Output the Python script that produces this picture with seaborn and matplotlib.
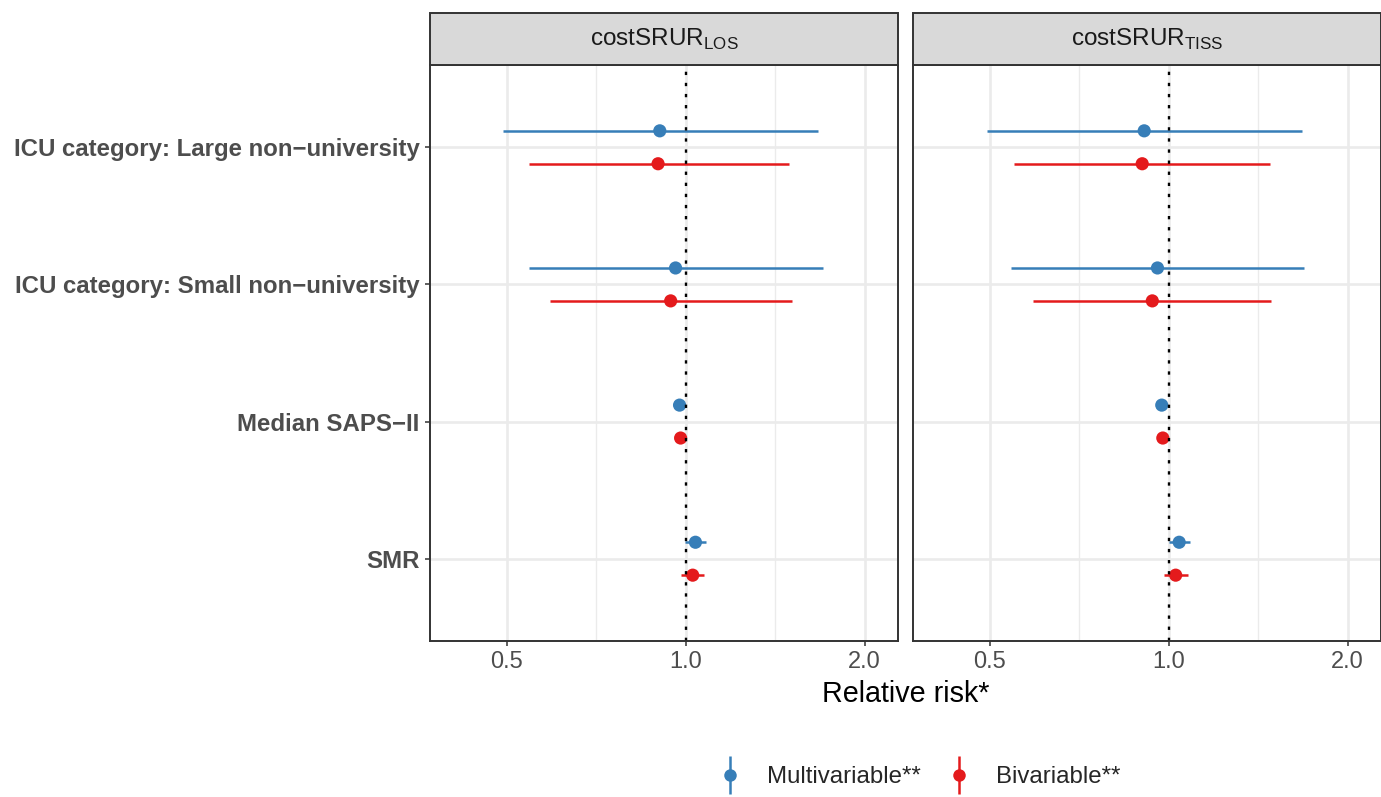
import numpy as np
import pandas as pd
import matplotlib
matplotlib.use("Agg")
import matplotlib.pyplot as plt
import seaborn as sns
from matplotlib.lines import Line2D
from matplotlib.patches import Rectangle
from matplotlib.legend_handler import HandlerTuple

# --- Data ---
variables = [
    "ICU category: Large non\u2212university",
    "ICU category: Small non\u2212university",
    "Median SAPS\u2212II",
    "SMR",
]
outcomes = [r"costSRUR$_\mathregular{LOS}$", r"costSRUR$_\mathregular{TISS}$"]
models = ["Multivariable**", "Bivariable**"]

los_multi_rr = [0.904, 0.961, 0.976, 1.038]
los_multi_lo = [0.492, 0.545, 0.970, 0.996]
los_multi_hi = [1.667, 1.699, 0.982, 1.083]
los_bi_rr = [0.898, 0.943, 0.980, 1.027]
los_bi_lo = [0.544, 0.591, 0.974, 0.982]
los_bi_hi = [1.489, 1.508, 0.986, 1.075]

tiss_multi_rr = [0.909, 0.957, 0.973, 1.041]
tiss_multi_lo = [0.494, 0.542, 0.967, 1.000]
tiss_multi_hi = [1.674, 1.691, 0.979, 1.086]
tiss_bi_rr = [0.902, 0.938, 0.977, 1.027]
tiss_bi_lo = [0.549, 0.590, 0.971, 0.982]
tiss_bi_hi = [1.481, 1.487, 0.983, 1.076]

palette = {"Multivariable**": "#377EB8", "Bivariable**": "#E41A1C"}

# --- Long table ---
rows = []
for outcome, series in zip(outcomes, [
    [(los_multi_rr, los_multi_lo, los_multi_hi), (los_bi_rr, los_bi_lo, los_bi_hi)],
    [(tiss_multi_rr, tiss_multi_lo, tiss_multi_hi), (tiss_bi_rr, tiss_bi_lo, tiss_bi_hi)],
]):
    for model, (rr, lo, hi) in zip(models, series):
        for v, r, l, h in zip(variables, rr, lo, hi):
            rows.append({"outcome": outcome, "variable": v, "model": model,
                         "rr": r, "lo": l, "hi": h})
df = pd.DataFrame(rows)

# --- Style ---
sns.set_style("white")
plt.rcParams["font.family"] = ["Liberation Sans", "DejaVu Sans"]
plt.rcParams["mathtext.fontset"] = "custom"
plt.rcParams["mathtext.rm"] = "Liberation Sans"

DODGE = 0.12


def draw_forest(data, **kws):
    ax = plt.gca()
    data = data.copy()
    offs = data["model"].map({"Multivariable**": -DODGE, "Bivariable**": DODGE})
    data["ypos"] = data["variable"].map({v: i for i, v in enumerate(variables)}) + offs
    for model, sub in data.groupby("model"):
        ax.hlines(sub["ypos"], sub["lo"], sub["hi"], color=palette[model],
                  lw=1.8, zorder=2)
    sns.scatterplot(data=data, x="rr", y="ypos", hue="model", palette=palette,
                    s=90, linewidth=0, legend=False, zorder=3, ax=ax)
    ax.axvline(1.0, color="black", lw=1.7, ls=(0, (1.4, 3.3)), zorder=4)


g = sns.FacetGrid(df, col="outcome", col_order=outcomes, sharex=True, sharey=True,
                  height=7.97, aspect=13.81 / 7.97 / 2, despine=False)
g.map_dataframe(draw_forest)
g.set_titles("")
g.set_axis_labels("", "")

fig = g.figure
fig.set_size_inches(13.81, 7.97)
fig.subplots_adjust(left=430 / 1381, right=1.0, bottom=1 - 641 / 797,
                    top=1 - 65 / 797, wspace=0.032)

strip_h = 52 / 576
for i, (ax, outcome) in enumerate(zip(g.axes.flat, outcomes)):
    ax.set_xscale("log", base=2)
    ax.set_xlim(0.371, 2.276)
    ax.set_xticks([0.5, 1.0, 2.0])
    ax.set_xticklabels(["0.5", "1.0", "2.0"])
    ax.set_xticks([2 ** -0.5, 2 ** 0.5], minor=True)
    ax.set_xticklabels([], minor=True)
    ax.set_yticks(range(len(variables)))
    ax.set_ylim(3.6, -0.6)
    ax.grid(which="major", color="#EBEBEB", lw=1.9)
    ax.grid(which="minor", axis="x", color="#EBEBEB", lw=1.0)
    ax.set_axisbelow(True)
    for sp in ax.spines.values():
        sp.set_color("#333333")
        sp.set_linewidth(1.4)
        sp.set_zorder(5)
    ax.tick_params(axis="x", which="major", length=3.5, width=1.1, color="#333333",
                   labelsize=17, labelcolor="#4D4D4D", pad=4, bottom=True)
    ax.tick_params(axis="x", which="minor", length=0)
    if i == 0:
        ax.set_yticklabels(variables, fontweight="bold")
        ax.tick_params(axis="y", length=3.5, width=1.1, color="#333333",
                       labelsize=17.3, labelcolor="#4D4D4D", pad=4, left=True)
    else:
        ax.tick_params(axis="y", left=False, labelleft=False)
    ax.add_patch(Rectangle((0, 1), 1, strip_h, transform=ax.transAxes,
                           facecolor="#D9D9D9", edgecolor="#333333", lw=1.4,
                           clip_on=False, zorder=6))
    ax.text(0.5, 1 + strip_h / 2, outcome, transform=ax.transAxes, ha="center",
            va="center", fontsize=17.5, color="#1A1A1A", zorder=7)

fig.text(905.5 / 1381, 1 - 694 / 797, "Relative risk*", ha="center", va="center",
         fontsize=20.7, color="black")

handles = []
for m in models:
    bar = Line2D([], [], marker="|", markersize=27, markeredgewidth=1.8,
                 color=palette[m], linestyle="none")
    dot = Line2D([], [], marker="o", markersize=9, color=palette[m],
                 markeredgewidth=0, linestyle="none")
    handles.append((bar, dot))
fig.legend(handles, models, handler_map={tuple: HandlerTuple(ndivide=1)},
           loc="center", bbox_to_anchor=(918 / 1381, 1 - 777 / 797), ncol=2,
           frameon=False, fontsize=17.3, handlelength=1.2, handletextpad=0.95,
           columnspacing=1.0)

fig.savefig("out.png", dpi=100)
